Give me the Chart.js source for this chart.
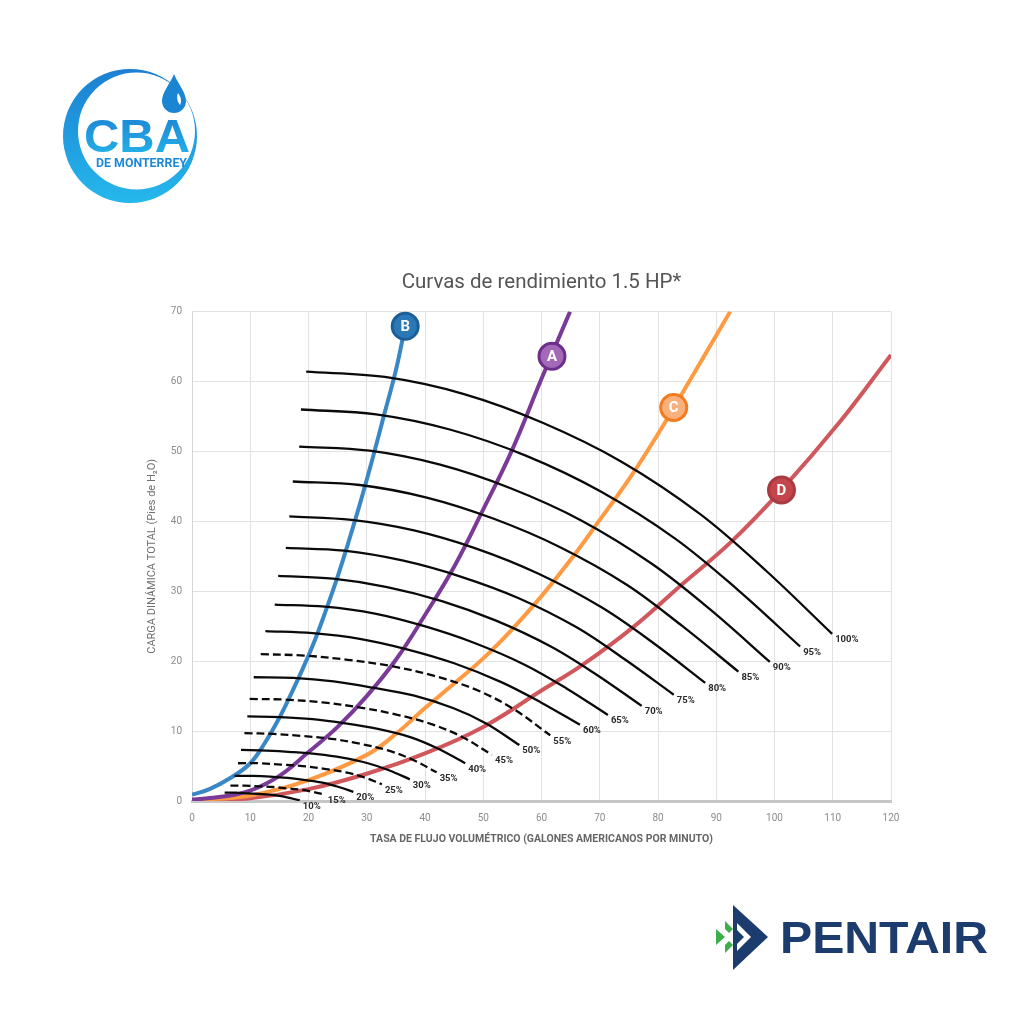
<!DOCTYPE html>
<html>
<head>
<meta charset="utf-8">
<script src="https://cdn.jsdelivr.net/npm/chart.js@4.4.1/dist/chart.umd.min.js"></script>
<style>
html,body{margin:0;padding:0;background:#ffffff;}
#wrap{position:relative;width:1024px;height:1024px;overflow:hidden;}
#c{position:absolute;left:0;top:0;}
#logos{position:absolute;left:0;top:0;}
</style>
</head>
<body>
<div id="wrap">
<canvas id="c" width="1024" height="1024"></canvas>
<svg id="logos" width="1024" height="1024" viewBox="0 0 1024 1024">
  <defs>
    <linearGradient id="cbaGrad" x1="0" y1="0" x2="0" y2="1">
      <stop offset="0" stop-color="#1c7fd2"/>
      <stop offset="1" stop-color="#25b8ec"/>
    </linearGradient>
  </defs>
  <!-- CBA logo -->
  <path fill="url(#cbaGrad)" fill-rule="evenodd"
        d="M 63 136 A 67 67 0 1 0 197 136 A 67 67 0 1 0 63 136 Z
           M 78 131 A 58.5 58.5 0 1 0 195 131 A 58.5 58.5 0 1 0 78 131 Z"/>
  <path fill="#1a86d3" d="M 174 74 C 178 84 186 92 186 101 A 12 12 0 0 1 162 101 C 162 92 170 84 174 74 Z"/>
  <path fill="#ffffff" d="M 178 93 C 181 97 182 101 180 105 C 178 103 176 98 178 93 Z"/>
  <text x="84" y="152" font-family="Liberation Sans, Arial, sans-serif" font-weight="700" font-size="47" fill="url(#cbaGrad)" textLength="106" lengthAdjust="spacingAndGlyphs">CBA</text>
  <text x="96" y="167" font-family="Roboto, sans-serif" font-weight="700" font-size="12.5" fill="#1e8ad5" textLength="91" lengthAdjust="spacingAndGlyphs">DE MONTERREY</text>
  <!-- Pentair logo -->
  <polygon points="733,905 768,937 733,970" fill="#1d3c6e"/>
  <polygon points="737,923 751,937 737,951" fill="#ffffff"/>
  <polygon points="737,930 744,937 737,944" fill="#1d3c6e"/>
  <polygon points="716,929 725,937 716,945" fill="#3dae49"/>
  <polygon points="725,921 733,929 725,937" fill="#3dae49"/>
  <polygon points="725,937 733,945 725,953" fill="#3dae49"/>
  <polygon points="725,929 733,937 725,945" fill="#ffffff"/>
  <text x="780" y="953" font-family="Liberation Sans, Arial, sans-serif" font-weight="700" font-size="44" fill="#1d3c6e" textLength="208" lengthAdjust="spacingAndGlyphs">PENTAIR</text>
</svg>
</div>
<script>
// ---- Axis ranges ----
const xRange = [0, 120];
const yRange = [0, 70];
const tickStep = 10;

// ---- System curves (TASA vs CARGA) ----
const curveB_x = [0, 3, 6.8, 10, 12.5, 15, 17, 19, 21, 23, 25, 27, 29, 31, 33, 35, 36.6];
const curveB_y = [0.9, 1.7, 3.4, 5.4, 8.3, 11.9, 15.3, 18.9, 22.8, 27.3, 32.1, 37.4, 43.0, 49.0, 55.3, 61.6, 67.9];
const curveA_x = [0, 5, 10, 15, 20, 25, 30, 35, 40, 45, 50, 55, 60, 64.9];
const curveA_y = [0.2, 0.6, 1.5, 3.6, 7.0, 10.6, 15.0, 20.2, 26.6, 33.5, 41.7, 50.3, 60.4, 70];
const curveC_x = [0, 10, 20, 30, 35, 40, 45, 50, 55, 60, 65, 70, 75, 80, 85, 92.4];
const curveC_y = [0.1, 0.8, 3.0, 6.6, 9.6, 13.3, 16.8, 20.4, 24.6, 29.3, 34.5, 40.2, 46.0, 52.5, 59.5, 70];
const curveD_x = [0, 10, 20, 30, 40, 50, 60, 67.1, 75.8, 84, 92.6, 101.2, 111.2, 120];
const curveD_y = [0, 0.4, 1.7, 3.9, 6.8, 10.6, 15.8, 19.5, 24.9, 30.9, 37.1, 44.5, 54.2, 63.8];

// ---- Curve markers (letter, x, y) ----
const markerLetters = ['B', 'A', 'C', 'D'];
const markerX = [36.6, 61.8, 82.7, 101.2];
const markerY = [67.9, 63.6, 56.3, 44.5];

// ---- Speed (%) curves ----
const pctLabels = ['100%','95%','90%','85%','80%','75%','70%','65%','60%','55%','50%','45%','40%','35%','30%','25%','20%','15%','10%'];
const pctDashed = [false,false,false,false,false,false,false,false,false,true,false,true,false,true,false,true,false,true,false];
const p100_x = [19.6, 33.1, 46.7, 60.2, 73.8, 87.3, 98.6, 109.9];
const p100_y = [61.4, 60.65, 58.2, 54.1, 48.5, 41.0, 32.9, 23.9];
const p95_x = [18.7, 31.6, 44.4, 57.3, 70.1, 83.0, 93.7, 104.4];
const p95_y = [56.0, 55.3, 53.1, 49.4, 44.3, 37.5, 30.2, 22.1];
const p90_x = [18.4, 30.5, 42.6, 54.8, 66.9, 79.0, 89.1, 99.2];
const p90_y = [50.7, 50.1, 48.1, 44.7, 40.1, 33.9, 27.3, 19.9];
const p85_x = [17.3, 28.8, 40.3, 51.7, 63.2, 74.7, 84.2, 93.8];
const p85_y = [45.7, 45.2, 43.4, 40.4, 36.3, 30.9, 25.0, 18.5];
const p80_x = [16.7, 27.4, 38.1, 48.8, 59.5, 70.3, 79.2, 88.1];
const p80_y = [40.7, 40.2, 38.7, 36.1, 32.5, 27.7, 22.6, 16.9];
const p75_x = [16.1, 26.1, 36.1, 46.1, 56.1, 66.1, 74.4, 82.7];
const p75_y = [36.2, 35.8, 34.4, 32.1, 29.0, 24.8, 20.2, 15.2];
const p70_x = [14.8, 24.2, 33.5, 42.9, 52.2, 61.6, 69.4, 77.2];
const p70_y = [32.2, 31.8, 30.6, 28.6, 25.8, 22.1, 18.1, 13.6];
const p65_x = [14.2, 22.8, 31.4, 39.9, 48.5, 57.1, 64.3, 71.4];
const p65_y = [28.1, 27.8, 26.8, 25.0, 22.6, 19.5, 16.1, 12.3];
const p60_x = [12.6, 20.7, 28.8, 36.9, 45.0, 53.1, 59.9, 66.6];
const p60_y = [24.3, 24.0, 23.2, 21.7, 19.7, 17.0, 14.1, 10.9];
const p55_x = [11.8, 19.3, 26.7, 34.2, 41.6, 49.1, 55.3, 61.5];
const p55_y = [21.0, 20.8, 20.2, 19.3, 17.9, 15.8, 13.1, 9.4];
const p50_x = [10.6, 17.4, 24.3, 31.1, 38.0, 44.8, 50.5, 56.2];
const p50_y = [17.7, 17.6, 17.1, 16.2, 15.1, 13.3, 11.1, 8.0];
const p45_x = [9.9, 16.1, 22.4, 28.6, 34.9, 41.1, 46.3, 51.5];
const p45_y = [14.6, 14.5, 14.1, 13.4, 12.4, 11.0, 9.2, 6.6];
const p40_x = [9.5, 15.1, 20.7, 26.3, 31.9, 37.6, 42.2, 46.9];
const p40_y = [12.1, 12.0, 11.7, 11.1, 10.3, 9.1, 7.5, 5.4];
const p35_x = [9.0, 14.0, 18.9, 23.9, 28.8, 33.8, 37.9, 42.0];
const p35_y = [9.7, 9.6, 9.3, 8.9, 8.2, 7.2, 5.9, 4.1];
const p30_x = [8.4, 12.8, 17.1, 21.5, 25.8, 30.2, 33.8, 37.4];
const p30_y = [7.3, 7.2, 7.0, 6.7, 6.2, 5.4, 4.4, 3.1];
const p25_x = [7.9, 11.6, 15.3, 19.0, 22.7, 26.4, 29.5, 32.6];
const p25_y = [5.4, 5.4, 5.2, 5.0, 4.6, 4.1, 3.4, 2.4];
const p20_x = [7.3, 10.4, 13.4, 16.5, 19.5, 22.6, 25.2, 27.7];
const p20_y = [3.6, 3.6, 3.5, 3.3, 3.0, 2.6, 2.0, 1.3];
const p15_x = [6.6, 9.0, 11.5, 13.9, 16.3, 18.8, 20.8, 22.8];
const p15_y = [2.2, 2.2, 2.1, 2.0, 1.8, 1.6, 1.3, 0.9];
const p10_x = [5.6, 7.5, 9.5, 11.4, 13.3, 15.3, 16.9, 18.5];
const p10_y = [1.2, 1.2, 1.1, 1.0, 0.9, 0.7, 0.4, 0.1];

const pctX = [p100_x,p95_x,p90_x,p85_x,p80_x,p75_x,p70_x,p65_x,p60_x,p55_x,p50_x,p45_x,p40_x,p35_x,p30_x,p25_x,p20_x,p15_x,p10_x];
const pctY = [p100_y,p95_y,p90_y,p85_y,p80_y,p75_y,p70_y,p65_y,p60_y,p55_y,p50_y,p45_y,p40_y,p35_y,p30_y,p25_y,p20_y,p15_y,p10_y];

function zip(xs, ys) { return xs.map((x, i) => ({ x: x, y: ys[i] })); }

const sysStyles = [
  { x: curveB_x, y: curveB_y, color: '#3a87c6' },
  { x: curveA_x, y: curveA_y, color: '#7b3a98' },
  { x: curveC_x, y: curveC_y, color: '#ff9a42' },
  { x: curveD_x, y: curveD_y, color: '#d0585d' }
];
const markerFill = ['#2b78b6', '#a468b8', '#f8b07c', '#c4454c'];
const markerBorder = ['#1c5f98', '#6c2e8a', '#f47a1e', '#a83a40'];

const datasets = [];
markerLetters.forEach((L, i) => {
  datasets.push({
    type: 'scatter',
    data: [{ x: markerX[i], y: markerY[i] }],
    showLine: false,
    pointRadius: 13,
    pointHoverRadius: 13,
    backgroundColor: markerFill[i],
    borderColor: markerBorder[i],
    pointBorderWidth: 3,
    borderWidth: 3,
    clip: false,
    order: 0,
    markerLetter: L
  });
});
pctLabels.forEach((lab, i) => {
  datasets.push({
    type: 'scatter',
    data: zip(pctX[i], pctY[i]),
    showLine: true,
    borderColor: '#0a0a0a',
    borderWidth: 2.3,
    borderDash: pctDashed[i] ? [8, 4] : [],
    pointRadius: 0,
    pointHoverRadius: 0,
    tension: 0.35,
    fill: false,
    order: 1,
    endLabel: lab
  });
});
sysStyles.forEach((s) => {
  datasets.push({
    type: 'scatter',
    data: zip(s.x, s.y),
    showLine: true,
    borderColor: s.color,
    borderWidth: 4,
    pointRadius: 0,
    pointHoverRadius: 0,
    tension: 0.4,
    fill: false,
    order: 2
  });
});

const labelPlugin = {
  id: 'curveLabels',
  afterDatasetsDraw(chart) {
    const ctx = chart.ctx;
    ctx.save();
    chart.data.datasets.forEach((ds, i) => {
      const meta = chart.getDatasetMeta(i);
      if (ds.endLabel) {
        const pt = meta.data[meta.data.length - 1];
        ctx.font = 'bold 9.5px Roboto, sans-serif';
        ctx.fillStyle = '#2a2a2a';
        ctx.textAlign = 'left';
        ctx.textBaseline = 'middle';
        ctx.fillText(ds.endLabel, pt.x + 3, pt.y + 6);
      }
    });
    chart.data.datasets.forEach((ds, i) => {
      const meta = chart.getDatasetMeta(i);
      if (ds.markerLetter) {
        const pt = meta.data[0];
        ctx.font = 'bold 15px Roboto, sans-serif';
        ctx.fillStyle = '#ffffff';
        ctx.textAlign = 'center';
        ctx.textBaseline = 'middle';
        ctx.fillText(ds.markerLetter, pt.x, pt.y + 1);
      }
    });
    ctx.restore();
  }
};

new Chart(document.getElementById('c'), {
  type: 'scatter',
  data: { datasets: datasets },
  plugins: [labelPlugin],
  options: {
    responsive: false,
    animation: false,
    events: [],
    layout: { padding: { left: 140, right: 133, top: 262, bottom: 178 } },
    plugins: {
      legend: { display: false },
      tooltip: { enabled: false },
      title: {
        display: true,
        fullSize: false,
        text: 'Curvas de rendimiento 1.5 HP*',
        color: '#555555',
        font: { family: 'Roboto, sans-serif', size: 20.5, weight: 'normal' },
        padding: { top: 9, bottom: 16 }
      }
    },
    scales: {
      x: {
        type: 'linear',
        min: xRange[0], max: xRange[1],
        afterFit(scale) { scale.height = 45; },
        ticks: { stepSize: tickStep, color: '#8c8c8c', padding: 11, font: { family: 'Roboto, sans-serif', size: 10 } },
        grid: { color: '#e2e2e2', lineWidth: 1, drawTicks: false },
        border: { color: '#c6c6c6', width: 3 },
        title: {
          display: true,
          text: 'TASA DE FLUJO VOLUMÉTRICO (GALONES AMERICANOS POR MINUTO)',
          color: '#666666',
          font: { family: 'Roboto, sans-serif', size: 10.5, weight: 'bold' },
          padding: { top: 0, bottom: 0 }
        }
      },
      y: {
        type: 'linear',
        min: yRange[0], max: yRange[1],
        afterFit(scale) { scale.width = 52; },
        ticks: { stepSize: tickStep, color: '#8c8c8c', padding: 10, font: { family: 'Roboto, sans-serif', size: 10 } },
        grid: { color: '#e2e2e2', lineWidth: 1, drawTicks: false },
        border: { color: '#d6d6d6', width: 1 },
        title: {
          display: true,
          text: 'CARGA DINÁMICA TOTAL (Pies de H₂O)',
          color: '#707070',
          font: { family: 'Roboto, sans-serif', size: 11, weight: 'normal' },
          padding: { top: 6, bottom: 0 }
        }
      }
    }
  }
});
</script>
</body>
</html>
